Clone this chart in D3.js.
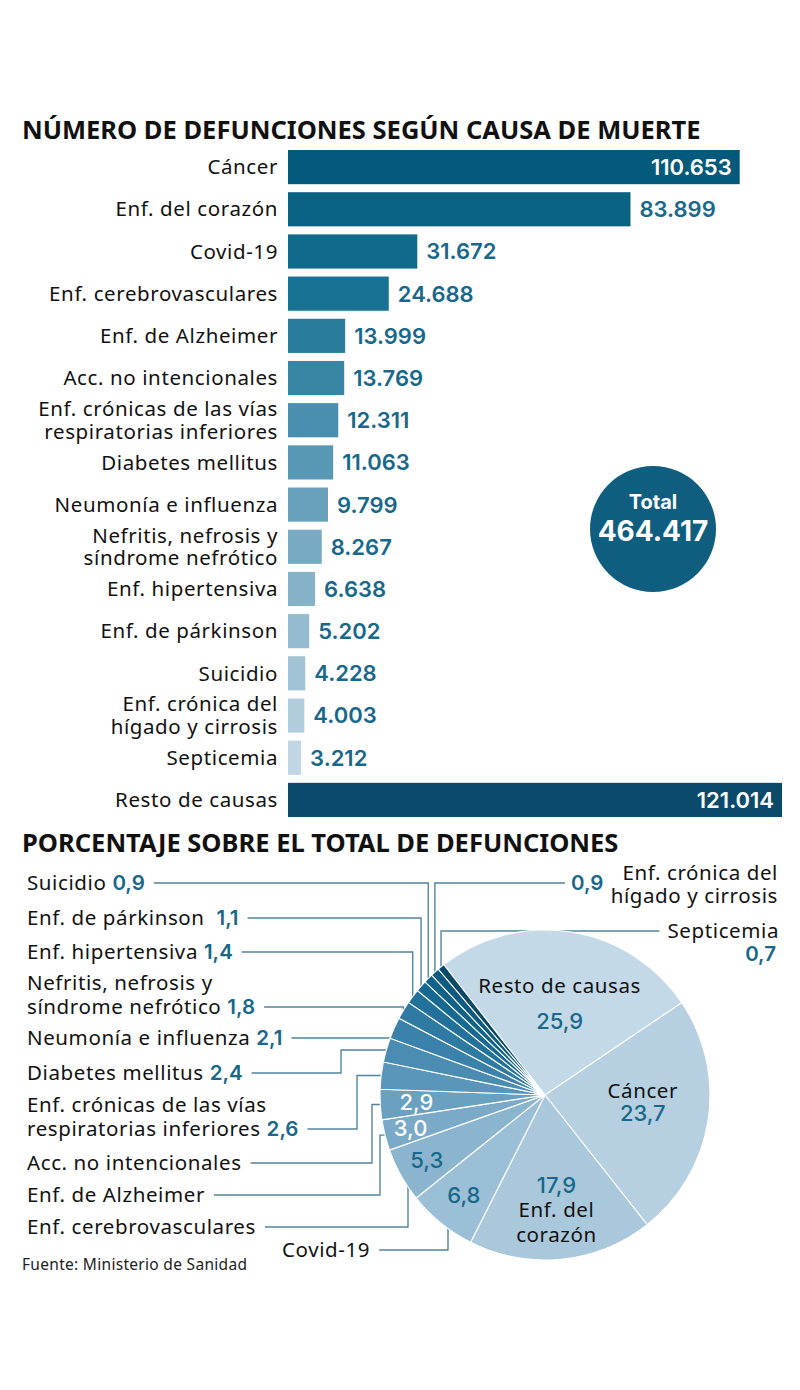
<!DOCTYPE html>
<html>
<head>
<meta charset="utf-8">
<script src="https://cdn.jsdelivr.net/npm/d3@7"></script>
<style>
  body { margin: 0; background: #fff; }
  svg { display: block; }
</style>
</head>
<body>
<svg id="chart" width="800" height="1390"></svg>
<script>
// Causes, in the order of the bar chart.
const causeLines = [
  ["Cáncer"],
  ["Enf. del corazón"],
  ["Covid-19"],
  ["Enf. cerebrovasculares"],
  ["Enf. de Alzheimer"],
  ["Acc. no intencionales"],
  ["Enf. crónicas de las vías", "respiratorias inferiores"],
  ["Diabetes mellitus"],
  ["Neumonía e influenza"],
  ["Nefritis, nefrosis y", "síndrome nefrótico"],
  ["Enf. hipertensiva"],
  ["Enf. de párkinson"],
  ["Suicidio"],
  ["Enf. crónica del", "hígado y cirrosis"],
  ["Septicemia"],
  ["Resto de causas"]
]
const deaths = [110653, 83899, 31672, 24688, 13999, 13769, 12311, 11063, 9799, 8267, 6638, 5202, 4228, 4003, 3212, 121014]
const total = 464417
// Percentages as printed in the source.
const percent = [23.7, 17.9, 6.8, 5.3, 3.0, 2.9, 2.6, 2.4, 2.1, 1.8, 1.4, 1.1, 0.9, 0.9, 0.7, 25.9]
// Pie goes clockwise from "Resto", then the rest in bar order.
const pieOrder = [15, 0, 1, 2, 3, 4, 5, 6, 7, 8, 9, 10, 11, 12, 13, 14]

const W = 800
const LABEL_FONT = "'Noto Sans', sans-serif"
const NUM_FONT = "Inter, sans-serif"
const LS = 0.6
const TEAL = "#17688a"
const LINE = "#53849f"

const es = d3.formatLocale({ decimal: ",", thousands: ".", grouping: [3], currency: ["", ""] })
const fmtInt = es.format(",d")
const fmtPct = es.format(".1f")

function setupSvg() {
  var svg = d3.select("#chart")
  svg.append("rect").attr("width", W).attr("height", 1390).attr("fill", "#fff")
  return svg
}

function title(svg, text, y) {
  svg.append("text")
    .attr("x", 22).attr("y", y)
    .attr("font-family", LABEL_FONT).attr("font-weight", 700)
    .attr("font-size", 25.5).attr("fill", "#111")
    .text(text)
}

function multiline(sel, lines, x, yc, lh) {
  var n = lines.length
  lines.forEach((l, i) => {
    sel.append("tspan")
      .attr("x", x)
      .attr("y", yc + (i - (n - 1) / 2) * lh)
      .attr("dy", "0.35em")
      .text(l)
  })
}

function drawBars(svg) {
  var idx = d3.range(deaths.length)
  var y = d3.scaleBand().domain(idx).range([150, 817]).paddingInner(0.19)
  var x = d3.scaleLinear().domain([0, d3.max(deaths)]).range([288, 782])
  var shade = d3.scaleLinear().domain([0, 3, 6, 9, 12, 14])
    .range(["#035a7b", "#187293", "#4a8fad", "#78aac3", "#a2c3d6", "#c0d6e3"])
    .interpolate(d3.interpolateRgb)
  var color = i => i === 15 ? "#0b4a6a" : shade(i)

  var g = svg.append("g")
  g.selectAll("rect").data(idx).join("rect")
    .attr("x", x(0))
    .attr("y", i => y(i))
    .attr("width", i => x(deaths[i]) - x(0))
    .attr("height", y.bandwidth())
    .attr("fill", color)

  g.selectAll("text.lab").data(idx).join("text")
    .attr("class", "lab")
    .attr("text-anchor", "end")
    .attr("font-family", LABEL_FONT).attr("font-size", 20.5).attr("letter-spacing", LS).attr("fill", "#111")
    .each(function (i) {
      multiline(d3.select(this), causeLines[i], 278, y(i) + y.bandwidth() / 2, 22.5)
    })

  g.selectAll("text.val").data(idx).join("text")
    .attr("class", "val")
    .attr("font-family", NUM_FONT).attr("font-weight", 600).attr("font-size", 22)
    .attr("x", i => deaths[i] > 100000 ? x(deaths[i]) - 8 : x(deaths[i]) + 9)
    .attr("y", i => y(i) + y.bandwidth() / 2)
    .attr("dy", "0.36em")
    .attr("text-anchor", i => deaths[i] > 100000 ? "end" : "start")
    .attr("fill", i => deaths[i] > 100000 ? "#fff" : TEAL)
    .text(i => fmtInt(deaths[i]))

  // Total badge
  var b = svg.append("g").attr("transform", "translate(653,529)")
  b.append("circle").attr("r", 63).attr("fill", "#0f5e80")
  b.append("text").attr("y", -27).attr("dy", "0.36em").attr("text-anchor", "middle")
    .attr("font-family", NUM_FONT).attr("font-weight", 700).attr("font-size", 20).attr("fill", "#fff")
    .text("Total")
  b.append("text").attr("y", 2).attr("dy", "0.36em").attr("text-anchor", "middle")
    .attr("font-family", NUM_FONT).attr("font-weight", 700).attr("font-size", 28).attr("fill", "#fff")
    .text(fmtInt(total))
}

// Where the outside pie labels sit (by cause index), and elbow x for leader lines.
const outsideLeft = [
  { i: 12, x: 27, y: 883 },
  { i: 11, x: 27, y: 918, gap: true },
  { i: 10, x: 27, y: 952 },
  { i: 9, x: 27, y: 995 },
  { i: 8, x: 27, y: 1038 },
  { i: 7, x: 27, y: 1073, elbow: 341 },
  { i: 6, x: 27, y: 1117, elbow: 357 },
  { i: 5, x: 27, y: 1163, elbow: 372, noValue: true },
  { i: 4, x: 27, y: 1195, elbow: 380, noValue: true },
  { i: 3, x: 27, y: 1227, elbow: 408, noValue: true },
  { i: 2, x: 282, y: 1250, elbow: 448, noValue: true }
]
// Labels printed inside the pie: cause index, radius factor, name lines.
const inside = [
  { i: 15, k: 0.56, lh: 36, name: ["Resto de causas"] },
  { i: 0, k: 0.6, lh: 23, dy: -8, name: ["Cáncer"] },
  { i: 1, k: 0.7, lh: 25, name: ["Enf. del", "corazón"], valueFirst: true },
  { i: 2, k: 0.78, name: [] },
  { i: 3, k: 0.82, name: [] },
  { i: 4, k: 0.84, name: [], white: true },
  { i: 5, k: 0.78, name: [], white: true }
]

function drawPie(svg) {
  var cx = 545, cy = 1095, r = 165
  var pie = d3.pie().sort(null).value(i => deaths[i])
    .startAngle(-0.66).endAngle(-0.66 + 2 * Math.PI)
  var arcs = pie(pieOrder)
  var byCause = {}
  arcs.forEach(a => { byCause[a.data] = a })
  var shade = d3.scaleLinear().domain([0, 3, 6, 9, 12, 14, 15])
    .range(["#c4d9e7", "#9bbfd6", "#6aa0c0", "#3a82ab", "#166992", "#0c5a80", "#0a4868"])
    .interpolate(d3.interpolateRgb)

  var edge = (i, rr) => {
    var a = (byCause[i].startAngle + byCause[i].endAngle) / 2
    return [cx + rr * Math.sin(a), cy - rr * Math.cos(a)]
  }

  var lines = svg.append("g").attr("fill", "none").attr("stroke", LINE).attr("stroke-width", 1.4)
  var labels = svg.append("g").attr("font-family", LABEL_FONT).attr("font-size", 20.5)
    .attr("letter-spacing", LS).attr("fill", "#111")

  outsideLeft.forEach(o => {
    var t = labels.append("text")
    var lns = causeLines[o.i]
    var lh = 24
    lns.forEach((l, j) => {
      t.append("tspan").attr("x", o.x)
        .attr("y", o.y + (j - (lns.length - 1) / 2) * lh).attr("dy", "0.35em").text(l)
      if (j === lns.length - 1 && !o.noValue) {
        t.append("tspan").text(o.gap ? "\u00a0\u00a0" : " ")
        t.append("tspan").attr("font-family", NUM_FONT).attr("font-weight", 600).attr("fill", TEAL)
          .attr("letter-spacing", 0)
          .text(fmtPct(percent[o.i]))
      }
    })
    var ly = o.y + (lns.length - 1) / 2 * lh
    var bb = t.node().getBBox()
    var sx = bb.x + bb.width + 9
    var p = edge(o.i, r)
    var q = edge(o.i, r - 8)
    var d = o.elbow
      ? `M${sx},${ly}H${o.elbow}V${p[1]}H${q[0]}`
      : `M${sx},${ly}H${p[0]}V${q[1]}`
    lines.append("path").attr("d", d)
  })

  // Right side labels
  var hig = labels.append("text").attr("text-anchor", "end")
  multiline(hig, causeLines[13], 778, 884, 23)
  labels.append("text").attr("x", 571).attr("y", 883).attr("dy", "0.35em")
    .attr("font-family", NUM_FONT).attr("font-weight", 600).attr("letter-spacing", 0).attr("fill", TEAL)
    .text(fmtPct(percent[13]))
  var p13 = edge(13, r), q13 = edge(13, r - 8)
  lines.append("path").attr("d", `M565,883H${p13[0]}V${q13[1]}`)

  var sep = labels.append("text").attr("x", 779).attr("y", 931).attr("dy", "0.35em").attr("text-anchor", "end")
    .text(causeLines[14][0])
  labels.append("text").attr("x", 776).attr("y", 954).attr("dy", "0.35em").attr("text-anchor", "end")
    .attr("font-family", NUM_FONT).attr("font-weight", 600).attr("letter-spacing", 0).attr("fill", TEAL)
    .text(fmtPct(percent[14]))
  var p14 = edge(14, r), q14 = edge(14, r - 8)
  var sx14 = sep.node().getBBox().x - 8
  lines.append("path").attr("d", `M${sx14},931H${p14[0]}V${q14[1]}`)

  var arc = d3.arc().innerRadius(0).outerRadius(r)
  svg.append("g").attr("transform", `translate(${cx},${cy})`)
    .selectAll("path").data(arcs).join("path")
    .attr("d", arc)
    .attr("fill", (a, k) => shade(k))
    .attr("stroke", "#fff").attr("stroke-width", 1.1)

  var inner = svg.append("g").attr("text-anchor", "middle")
  inside.forEach(o => {
    var c = edge(o.i, r * o.k)
    var val = { t: fmtPct(percent[o.i]), v: true }
    var rows = o.name.map(n => ({ t: n, v: false }))
    rows = o.valueFirst ? [val].concat(rows) : rows.concat([val])
    var lh = o.lh || 24
    var off = o.dy || 0
    rows.forEach((row, j) => {
      inner.append("text")
        .attr("x", c[0])
        .attr("y", c[1] + off + (j - (rows.length - 1) / 2) * lh)
        .attr("dy", "0.35em")
        .attr("font-family", row.v ? NUM_FONT : LABEL_FONT)
        .attr("font-weight", row.v ? 500 : 400)
        .attr("font-size", row.v ? 22 : 20.5)
        .attr("letter-spacing", row.v ? 0 : LS)
        .attr("fill", row.v ? (o.white ? "#fff" : TEAL) : "#111")
        .text(row.t)
    })
  })
}

function main() {
  var svg = setupSvg()
  title(svg, "NÚMERO DE DEFUNCIONES SEGÚN CAUSA DE MUERTE", 139)
  drawBars(svg)
  title(svg, "PORCENTAJE SOBRE EL TOTAL DE DEFUNCIONES", 852)
  drawPie(svg)
  svg.append("text").attr("x", 22).attr("y", 1270)
    .attr("font-family", LABEL_FONT).attr("font-size", 15.5).attr("letter-spacing", 0.3).attr("fill", "#222")
    .text("Fuente: Ministerio de Sanidad")
}

main()
</script>
</body>
</html>
